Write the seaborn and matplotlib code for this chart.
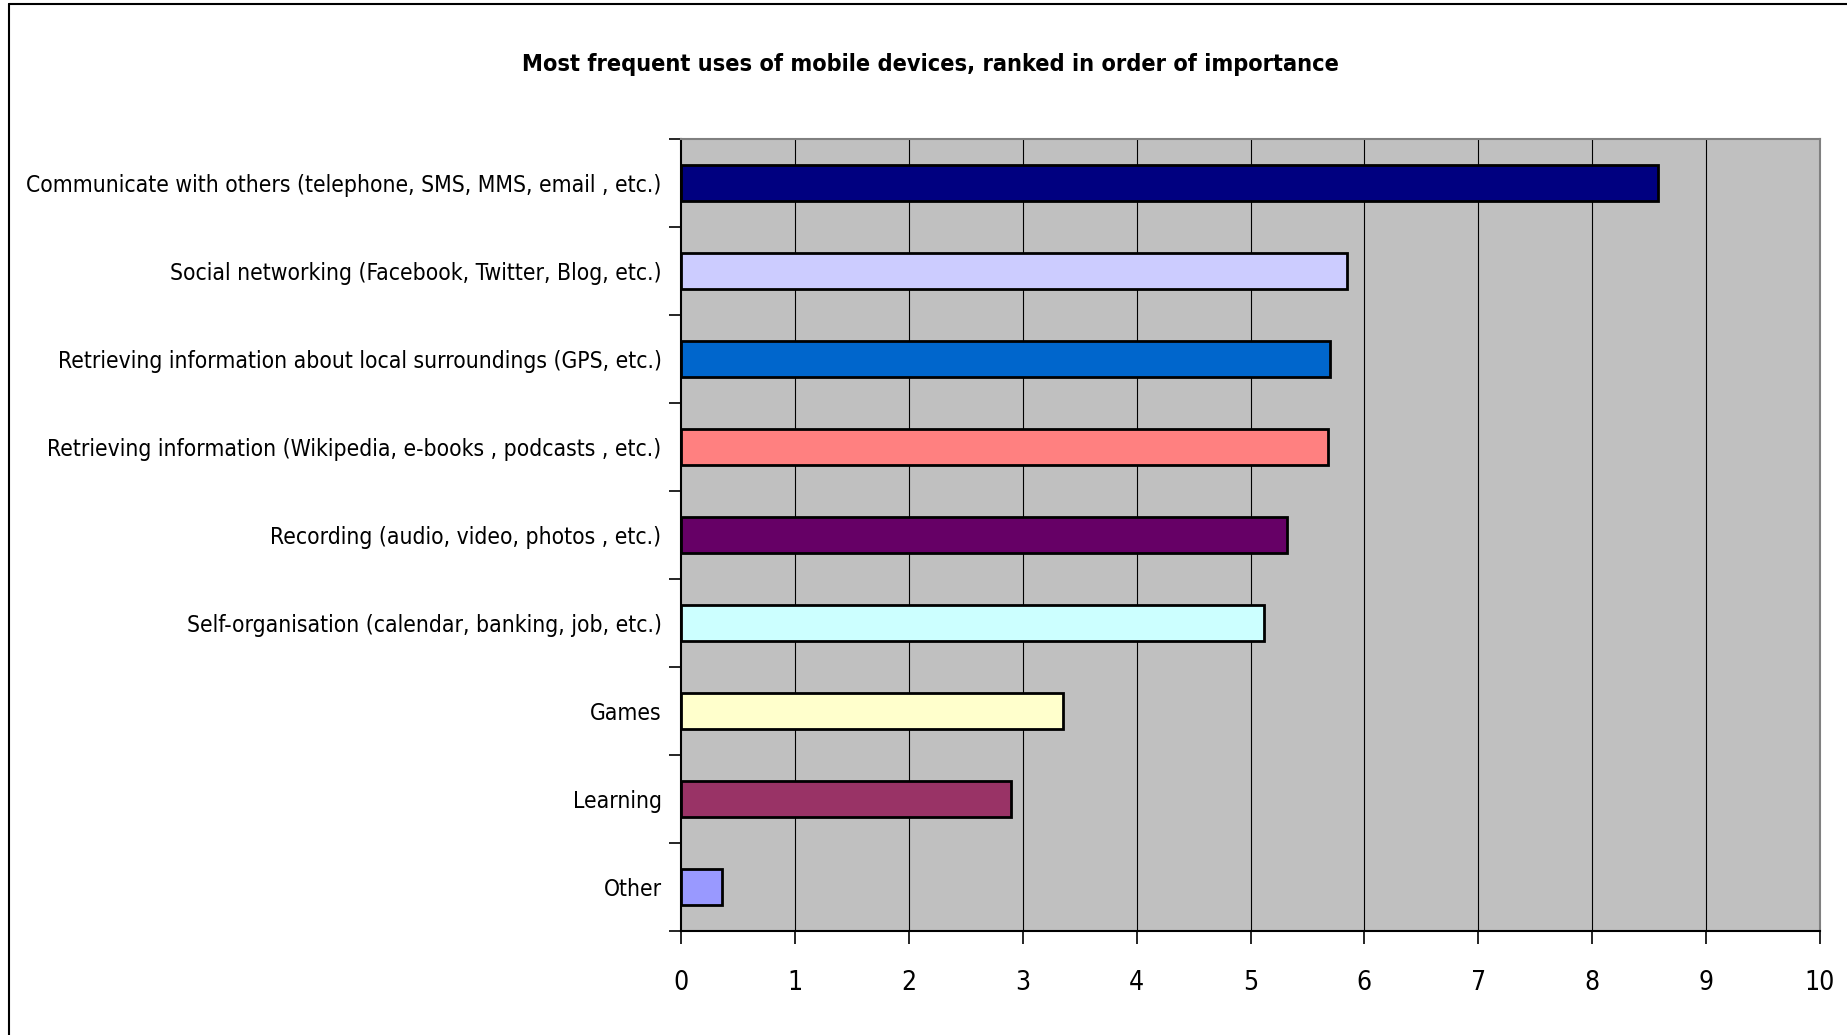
import matplotlib
matplotlib.use("Agg")
import matplotlib.pyplot as plt
import seaborn as sns
import pandas as pd
from matplotlib.lines import Line2D

# Usage categories, most important first
categories = [
    "Communicate with others (telephone, SMS, MMS, email , etc.)",
    "Social networking (Facebook, Twitter, Blog, etc.)",
    "Retrieving information about local surroundings (GPS, etc.)",
    "Retrieving information (Wikipedia, e-books , podcasts , etc.)",
    "Recording (audio, video, photos , etc.)",
    "Self-organisation (calendar, banking, job, etc.)",
    "Games",
    "Learning",
    "Other",
]
scores = [8.58, 5.85, 5.70, 5.68, 5.32, 5.12, 3.35, 2.90, 0.36]
bar_colors = ["#000080", "#CCCCFF", "#0066CC", "#FF8080", "#660066",
              "#CCFFFF", "#FFFFCC", "#993366", "#9999FF"]
x_ticks = list(range(0, 11))
title = "Most frequent uses of mobile devices, ranked in order of importance"

sns.set_theme(style="white")
fam = ["DejaVu Sans"]
plt.rcParams["font.family"] = fam
plt.rcParams["font.stretch"] = "condensed"
plt.rcParams["text.color"] = "black"

df = pd.DataFrame({"use": categories, "score": scores})

fig = plt.figure(figsize=(18.47, 10.35), dpi=100)
ax = fig.add_axes([0.3687, 0.1005, 0.9854 - 0.3687, 0.8657 - 0.1005])
ax.set_facecolor("#C0C0C0")

sns.barplot(data=df, x="score", y="use", hue="use", palette=bar_colors,
            legend=False, width=0.4, edgecolor="black", linewidth=2,
            saturation=1, ax=ax, zorder=3)

ax.set_xlim(0, 10)
ax.set_ylim(len(categories) - 0.5, -0.5)
ax.set_xticks(x_ticks)
ax.set_xticklabels([str(t) for t in x_ticks], fontsize=19, stretch="condensed",
                   color="black")
ax.set_xlabel("")
ax.set_ylabel("")
for lab in ax.get_yticklabels():
    lab.set_fontstretch("condensed")
    lab.set_color("black")

# vertical gridlines
ax.grid(False)
for t in x_ticks[1:-1]:
    ax.axvline(t, color="black", linewidth=0.8, zorder=1)

# category labels without tick marks; tick marks between categories
ax.tick_params(axis="y", which="major", length=0, pad=14, labelsize=16.4)
ax.set_yticks([i + 0.5 for i in range(-1, len(categories))], minor=True)
ax.tick_params(axis="y", which="minor", length=9, width=1.2, color="black",
               direction="out", left=True)
ax.tick_params(axis="x", which="major", length=9, width=1.2, color="black",
               direction="out", bottom=True, pad=19)

for side in ["left", "bottom"]:
    ax.spines[side].set_color("black")
    ax.spines[side].set_linewidth(1.5)
for side in ["top", "right"]:
    ax.spines[side].set_color("#808080")
    ax.spines[side].set_linewidth(1.5)

fig.text(0.5035, 0.938, title, ha="center", va="center", fontsize=16.8,
         fontweight="bold", fontstretch="condensed", color="black")

# chart border
fig.add_artist(Line2D([0.0051, 0.0051], [-0.1, 0.9966], color="black",
                      linewidth=1.5, transform=fig.transFigure))
fig.add_artist(Line2D([0.0051, 1.1], [0.9966, 0.9966], color="black",
                      linewidth=1.5, transform=fig.transFigure))

fig.savefig("out.png", dpi=100)
